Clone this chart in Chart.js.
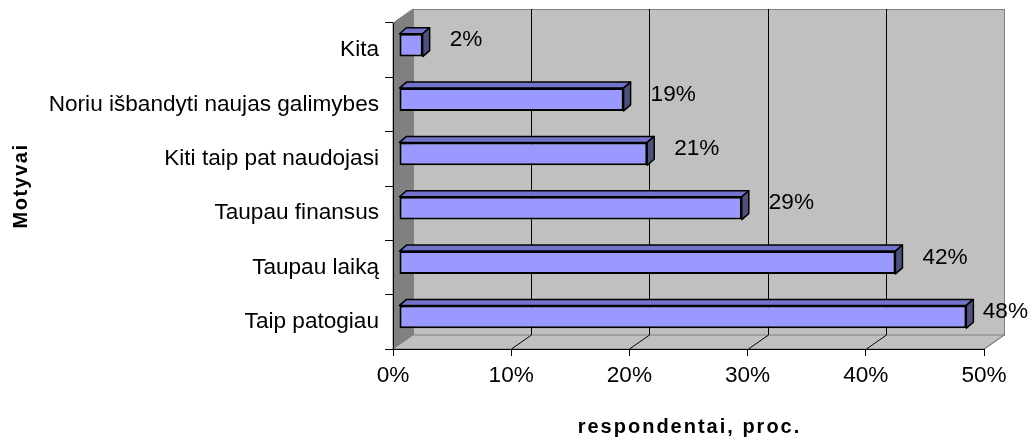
<!DOCTYPE html>
<html><head><meta charset="utf-8">
<script src="https://cdn.jsdelivr.net/npm/chart.js@4/dist/chart.umd.min.js"></script>
<style>html,body{margin:0;padding:0;background:#fff}#wrap{width:1034px;height:438px;position:relative}</style>
</head><body><div id="wrap"><canvas id="c" width="1034" height="438"></canvas></div>
<script>
// ---- data ----
const categories = ['Kita', 'Noriu išbandyti naujas galimybes', 'Kiti taip pat naudojasi', 'Taupau finansus', 'Taupau laiką', 'Taip patogiau'];
const values = [2, 19, 21, 29, 42, 48];
const tickValues = [0, 10, 20, 30, 40, 50];
const xTitle = 'respondentai, proc.';
const yTitle = 'Motyvai';

// ---- style ----
const FONT = '"Liberation Sans", Arial, sans-serif';
const FS = 22.6;
const WALL = { dx: 20, dy: -14 };
const BAR = { sx: 6, sy: -5, dx: 7, dy: -6 };
const COL = { front: '#9999FF', top: '#7373CC', side: '#50507F', wall: '#C0C0C0', leftWall: '#808080', edge: '#808080' };

const excel3d = {
  id: 'excel3d',
  beforeDraw(chart) {
    const { ctx, chartArea: a, scales: { x } } = chart;
    const L = a.left, R = a.right, T = a.top, B = a.bottom, dx = WALL.dx, dy = WALL.dy;
    ctx.save();
    ctx.fillStyle = '#fff';
    ctx.fillRect(0, 0, chart.width, chart.height);
    // back wall
    ctx.fillStyle = COL.wall;
    ctx.fillRect(L + dx, T + dy, R - L, B - T);
    ctx.strokeStyle = COL.edge; ctx.lineWidth = 1;
    ctx.strokeRect(L + dx + 0.5, T + dy + 0.5, R - L, B - T);
    // left wall
    ctx.fillStyle = COL.leftWall;
    ctx.beginPath();
    ctx.moveTo(L, T); ctx.lineTo(L + dx, T + dy); ctx.lineTo(L + dx, B + dy); ctx.lineTo(L, B); ctx.closePath();
    ctx.fill(); ctx.stroke();
    // floor
    ctx.fillStyle = COL.wall;
    ctx.beginPath();
    ctx.moveTo(L, B); ctx.lineTo(R, B); ctx.lineTo(R + dx, B + dy); ctx.lineTo(L + dx, B + dy); ctx.closePath();
    ctx.fill(); ctx.stroke();
    // gridlines on back wall and floor
    ctx.lineWidth = 1;
    tickValues.forEach(v => {
      if (v === tickValues[0]) return;
      const px = Math.round(x.getPixelForValue(v)) + 0.5;
      ctx.beginPath();
      ctx.moveTo(px, B); ctx.lineTo(px + dx, B + dy);
      if (v !== tickValues[tickValues.length - 1]) ctx.lineTo(px + dx, T + dy);
      ctx.strokeStyle = v === tickValues[tickValues.length - 1] ? COL.edge : '#000';
      ctx.stroke();
    });
    ctx.restore();
  },
  beforeDatasetsDraw(chart) {
    chart.ctx.save();
    chart.ctx.translate(BAR.sx, BAR.sy);
  },
  afterDatasetsDraw(chart) {
    const ctx = chart.ctx;
    ctx.restore();
    const meta = chart.getDatasetMeta(0);
    ctx.save();
    ctx.lineWidth = 1.5; ctx.strokeStyle = '#000'; ctx.lineJoin = 'round';
    meta.data.forEach((el, i) => {
      const p = el.getProps(['x', 'y', 'base', 'height'], true);
      const x0 = p.base + BAR.sx, x1 = p.x + BAR.sx;
      const top = p.y - p.height / 2 + BAR.sy, bot = p.y + p.height / 2 + BAR.sy;
      // top face
      ctx.fillStyle = COL.top;
      ctx.beginPath();
      ctx.moveTo(x0, top); ctx.lineTo(x0 + BAR.dx, top + BAR.dy); ctx.lineTo(x1 + BAR.dx, top + BAR.dy); ctx.lineTo(x1, top); ctx.closePath();
      ctx.fill(); ctx.stroke();
      // side face
      ctx.fillStyle = COL.side;
      ctx.beginPath();
      ctx.moveTo(x1, top); ctx.lineTo(x1 + BAR.dx, top + BAR.dy); ctx.lineTo(x1 + BAR.dx, bot + BAR.dy); ctx.lineTo(x1, bot); ctx.closePath();
      ctx.fill(); ctx.stroke();
    });
    // value labels
    ctx.font = FS + 'px ' + FONT;
    ctx.fillStyle = '#000';
    ctx.textBaseline = 'middle';
    ctx.textAlign = 'left';
    meta.data.forEach((el, i) => {
      const p = el.getProps(['x', 'y'], true);
      const txt = values[i] + '%';
      const w = ctx.measureText(txt).width;
      let lx = p.x + BAR.sx + BAR.dx + 20;
      lx = Math.min(lx, chart.width - w - 6);
      ctx.fillText(txt, lx, p.y + BAR.sy - 5);
    });
    ctx.restore();
  },
  afterDraw(chart) {
    const { ctx, chartArea: a } = chart;
    ctx.save();
    ctx.fillStyle = '#000';
    ctx.font = 'bold 20px ' + FONT;
    ctx.textAlign = 'center';
    ctx.textBaseline = 'alphabetic';
    ctx.letterSpacing = '2px';
    ctx.fillText(xTitle, (a.left + a.right) / 2 + 1, 433);
    ctx.translate(27, 186);
    ctx.rotate(-Math.PI / 2);
    ctx.letterSpacing = '1.5px';
    ctx.fillText(yTitle, 0, 0);
    ctx.restore();
  }
};

new Chart(document.getElementById('c'), {
  type: 'bar',
  data: {
    labels: categories,
    datasets: [{
      data: values,
      backgroundColor: COL.front,
      borderColor: '#000',
      borderWidth: 2,
      borderSkipped: false,
      barPercentage: 0.42,
      categoryPercentage: 1,
      clip: false
    }]
  },
  options: {
    indexAxis: 'y',
    responsive: false,
    animation: false,
    events: [],
    layout: { padding: { top: 23, right: 50, left: 0, bottom: 0 } },
    plugins: { legend: { display: false }, tooltip: { enabled: false }, title: { display: false } },
    scales: {
      x: {
        type: 'linear', min: 0, max: 50,
        afterBuildTicks(scale) { scale.ticks = tickValues.map(v => ({ value: v })); },
        afterFit(scale) { scale.height = 89; },
        grid: { drawOnChartArea: false, color: '#000', tickLength: 7 },
        border: { color: '#000', width: 1 },
        ticks: { color: '#000', font: { family: FONT, size: FS }, padding: 6, callback: v => v + '%', maxRotation: 0 }
      },
      y: {
        type: 'category',
        afterFit(scale) { scale.width = 393; },
        grid: { drawOnChartArea: false, color: '#000', tickLength: 8, offset: true },
        border: { color: '#000', width: 1 },
        ticks: { color: '#000', font: { family: FONT, size: FS }, padding: 6 }
      }
    }
  },
  plugins: [excel3d]
});
</script>
</body></html>
